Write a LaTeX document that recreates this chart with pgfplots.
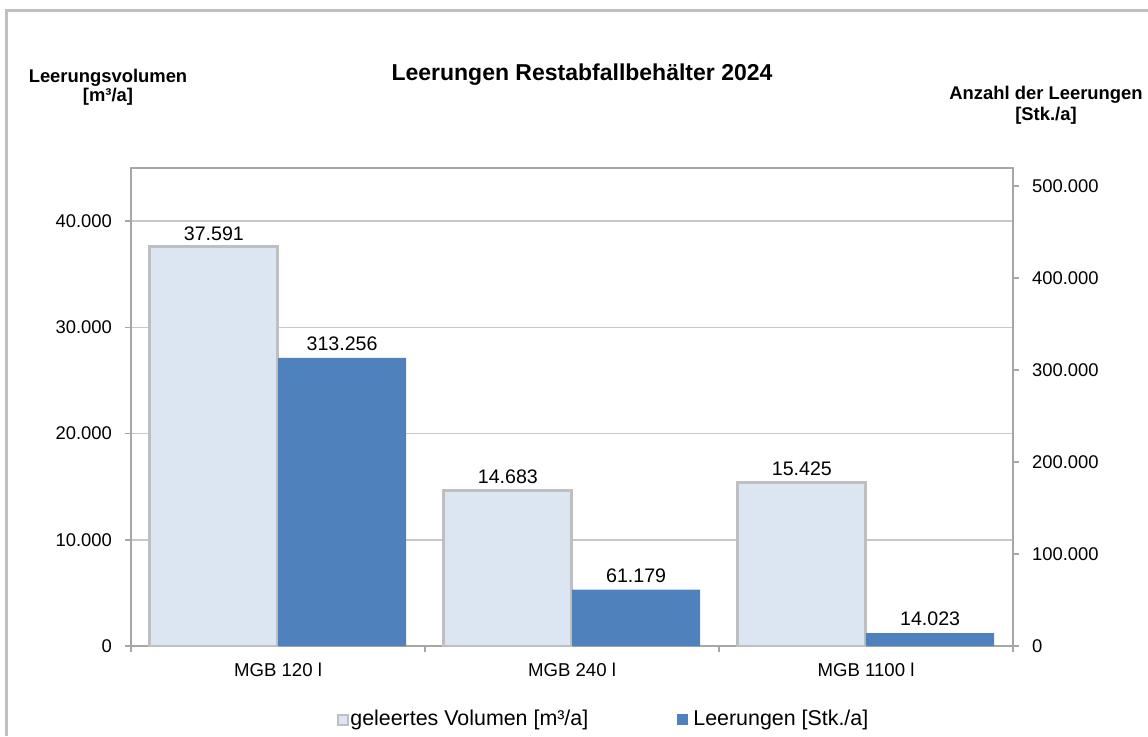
\documentclass[border=0pt]{standalone}
\usepackage{pgfplots}
\pgfplotsset{compat=1.18}
\usepackage{fontspec}
\setmainfont{Liberation Sans}
\definecolor{lightbar}{HTML}{DCE6F2}
\definecolor{barborder}{HTML}{BFBFBF}
\definecolor{darkbar}{HTML}{4F81BD}
\definecolor{gridcol}{HTML}{C8C8C8}
\definecolor{axiscol}{HTML}{A6A6A6}
\definecolor{framecol}{HTML}{C0C0C0}

\pgfplotsset{
  common/.style={
    scale only axis, width=441pt, height=239pt,
    at={(65.5pt,45pt)}, anchor=south west,
    xmin=-0.5, xmax=2.5, ymin=0,
    ybar, bar width=0.436,
    scaled y ticks=false,
    /pgf/number format/fixed,
    /pgf/number format/precision=0,
    /pgf/number format/1000 sep={.},
    /pgf/number format/assume math mode=true,
    tick align=outside, major tick length=3pt,
    tick style={axiscol, line width=0.75pt},
    axis line style={axiscol, line width=0.75pt},
    ticklabel style={font=\fontsize{9.2}{11}\selectfont},
    every node near coord/.append style={font=\fontsize{9.8}{11}\selectfont, text=black},
  }
}

\begin{document}
\begin{tikzpicture}
\path[use as bounding box] (0,0) rectangle (574pt,368pt);
\draw[framecol, line width=1.5pt] (3.25pt,0) -- (3.25pt,362.75pt) -- (574pt,362.75pt);

\begin{axis}[common,
  ymax=45000, ytick={0,10000,20000,30000,40000},
  ymajorgrids, grid style={gridcol, line width=0.75pt},
  ytick pos=left,
  xtick={0,1,2}, xticklabels={MGB 120 l, MGB 240 l, MGB 1100 l},
  x tick style={draw=none},
  extra x ticks={-0.5,0.5,1.5,2.5}, extra x tick labels={},
  extra x tick style={x tick style={draw=axiscol}, xtick pos=bottom},
  xticklabel style={font=\fontsize{9.3}{11}\selectfont, yshift=-2pt},
  yticklabel style={xshift=-3pt},
]
\addplot[fill=lightbar, draw=barborder, line width=1.5pt, bar shift=-0.218,
  nodes near coords, every node near coord/.append style={yshift=-1pt}]
  coordinates {(0,37591) (1,14683) (2,15425)};
\end{axis}

\begin{axis}[common,
  ymax=519565, ytick={0,100000,200000,300000,400000,500000},
  axis y line*=right, axis x line=none,
  yticklabel style={xshift=3pt},
]
\addplot[fill=darkbar, draw=none, bar shift=0.218, nodes near coords]
  coordinates {(0,313256) (1,61179) (2,14023)};
\end{axis}

\node[font=\fontsize{11.5}{13}\selectfont\bfseries] at (291pt,330.5pt) {Leerungen Restabfallbehälter 2024};
\node[font=\fontsize{9.2}{9.6}\selectfont\bfseries, align=center] at (54pt,324.5pt) {Leerungsvolumen\\{[m³/a]}};
\node[font=\fontsize{9.2}{10.5}\selectfont\bfseries, align=center] at (523pt,315.5pt) {Anzahl der Leerungen\\{[Stk./a]}};

\draw[barborder, fill=lightbar, line width=0.9pt] (169pt,5.5pt) rectangle (174pt,10.5pt);
\node[anchor=west, inner sep=0pt, font=\fontsize{10.7}{12}\selectfont] at (175pt,8pt) {geleertes Volumen [m³/a]};
\fill[darkbar] (338.5pt,5.5pt) rectangle (344pt,11pt);
\node[anchor=west, inner sep=0pt, font=\fontsize{10.7}{12}\selectfont] at (346.5pt,8pt) {Leerungen [Stk./a]};
\end{tikzpicture}
\end{document}
